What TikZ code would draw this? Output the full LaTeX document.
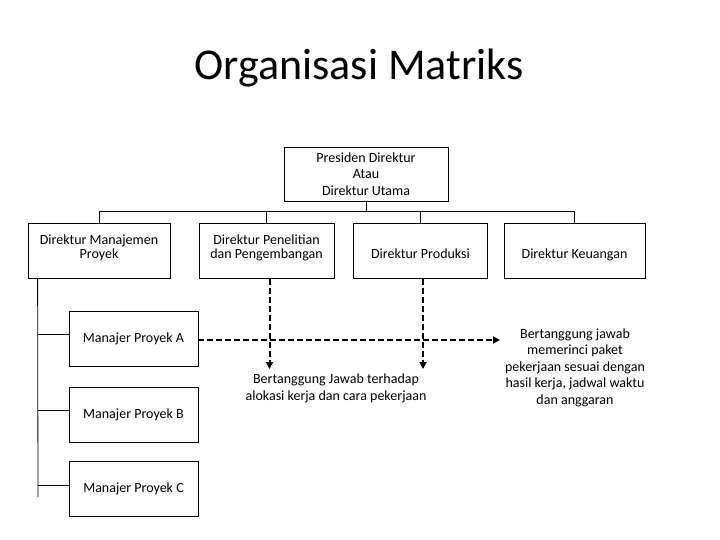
\documentclass[tikz,border=0pt]{standalone}
\usepackage{fontspec}
\setmainfont{Carlito}
\usetikzlibrary{calc,arrows.meta}
\tikzset{
	obox/.style={draw=black,line width=0.8pt,rectangle,inner sep=0pt,align=center,font=\fontsize{14}{16.5}\selectfont},
	tline/.style={draw=black,line width=0.8pt},
	dline/.style={draw=black,line width=2pt,dash pattern=on 6pt off 3pt},
	dtip/.style={-{Triangle[length=7pt,width=7pt]}},
	ntext/.style={align=center,font=\fontsize{14}{16.5}\selectfont}
}
\begin{document}
\begin{tikzpicture}[x=1pt,y=-1pt]
			\useasboundingbox (0,0) rectangle (720,540);
			\node[font=\fontsize{44}{52}\selectfont] (title) at (359,68) {Organisasi Matriks};
			% top level
			\node[obox,minimum width=164pt,minimum height=54pt] (pd) at (366,174)
				{Presiden Direktur\\Atau\\Direktur Utama};
			% directors
			\foreach \n/\cx/\w/\t in {dm/99/142/{},dp/266.5/135/{},dpr/420.5/134/{Direktur Produksi},dk/574.5/141/{Direktur Keuangan}}
			\node[obox,minimum width=\w pt,minimum height=55pt,text height=16pt,text depth=1pt] (\n) at (\cx,251) {\t};
			\node[ntext,anchor=north] (dmt) at ([yshift=-8pt]dm.north) {Direktur Manajemen\\[-2pt]Proyek};
			\node[ntext,anchor=north] (dpt) at ([yshift=-8pt]dp.north) {Direktur Penelitian\\[-2pt]dan Pengembangan};
			\coordinate (bus) at (366,211);
			\draw[tline] (pd.south) -- (bus);
			\foreach \n in {dm,dp,dpr,dk} \draw[tline] (bus) -| (\n.north);
			% project managers
			\foreach \n/\cy/\t in {ma/338.5/A,mb/414.5/B,mc/489/C}
			\node[obox,minimum width=129pt,minimum height=55pt] (\n) at (133.5,\cy) {Manajer Proyek \t};
			\coordinate (trk) at ($(dm.south west)+(10,0)$);
			\coordinate (trkend) at (38,497);
			\draw[tline] (trk) -- (trkend);
			\foreach \n in {ma,mb,mc} {
				\coordinate (b\n) at ([yshift=4pt]\n.west);
				\draw[tline] (b\n) -- (trk |- b\n);
			}
			% responsibilities
			\node[ntext] (rtext) at (336,388.5) {Bertanggung Jawab terhadap\\alokasi kerja dan cara pekerjaan};
			\node[ntext] (ktext) at (575,367.5) {Bertanggung jawab\\memerinci paket\\pekerjaan sesuai dengan\\hasil kerja, jadwal waktu\\dan anggaran};
			\coordinate (harr) at (500,340);
			\draw[dline,dtip] ([yshift=-1.5pt]ma.east) -- (harr);
			\draw[dline,dtip] ([xshift=3pt]dp.south) -- ([xshift=3pt]dp.south |- 0,369);
			\draw[dline,dtip] ([xshift=2.5pt]dpr.south) -- ([xshift=2.5pt]dpr.south |- 0,369);
		\end{tikzpicture}
\end{document}
